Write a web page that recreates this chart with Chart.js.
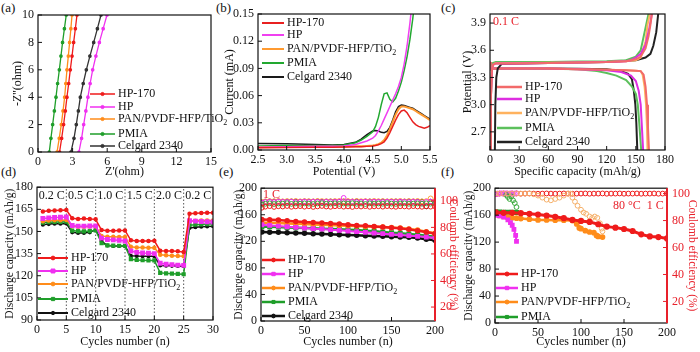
<!DOCTYPE html>
<html>
<head>
<meta charset="utf-8">
<script src="https://cdn.jsdelivr.net/npm/chart.js@4.4.0/dist/chart.umd.min.js"></script>
<style>
body{margin:0;width:700px;height:352px;background:#fff;position:relative;overflow:hidden}
canvas{position:absolute}
.lbl{position:absolute;font:13px "Liberation Serif","DejaVu Serif",serif;color:#111}
</style>
</head>
<body>
<div class="lbl" style="left:1px;top:0">(a)</div>
<div class="lbl" style="left:216px;top:0">(b)</div>
<div class="lbl" style="left:441px;top:0">(c)</div>
<div class="lbl" style="left:1px;top:164px">(d)</div>
<div class="lbl" style="left:219px;top:164px">(e)</div>
<div class="lbl" style="left:441px;top:164px">(f)</div>
<canvas id="ca" width="233" height="180" style="left:0;top:0"></canvas>
<canvas id="cb" width="233" height="180" style="left:220px;top:0"></canvas>
<canvas id="cc" width="245" height="180" style="left:455px;top:0"></canvas>
<canvas id="cd" width="233" height="176" style="left:0;top:176px"></canvas>
<canvas id="ce" width="240" height="176" style="left:230px;top:176px"></canvas>
<canvas id="cf" width="238" height="176" style="left:462px;top:176px"></canvas>
<script>
// ---- names ----
var names = ['HP-170', 'HP', 'PAN/PVDF-HFP/TiO₂', 'PMIA', 'Celgard 2340'];

// ---- (a) Nyquist ----
var aY = [0, 1, 2, 3, 4, 5, 6, 7, 8, 9, 10];
var aHP170 = [1.87, 2.05, 2.22, 2.37, 2.51, 2.66, 2.80, 2.95, 3.09, 3.24, 3.38];
var aHP = [3.55, 3.78, 3.96, 4.15, 4.33, 4.52, 4.74, 5.02, 5.32, 5.65, 5.98];
var aPAN = [1.65, 1.84, 2.02, 2.17, 2.31, 2.41, 2.51, 2.63, 2.74, 2.85, 2.95];
var aPMIA = [0.98, 1.12, 1.27, 1.42, 1.56, 1.70, 1.85, 1.99, 2.13, 2.29, 2.45];
var aCel = [2.86, 3.12, 3.32, 3.50, 3.67, 3.92, 4.19, 4.50, 4.83, 5.15, 5.46];

// ---- (b) LSV ----
var bX = [2.5, 3.0, 3.5, 3.8, 4.0, 4.2, 4.3, 4.4, 4.5, 4.55, 4.6, 4.65, 4.7, 4.75, 4.8, 4.85, 4.9, 4.95, 5.0, 5.05, 5.1, 5.15, 5.2, 5.25, 5.3, 5.35, 5.4, 5.45, 5.5];
var bHP170 = [0.0025, 0.0028, 0.003, 0.003, 0.0032, 0.0035, 0.0037, 0.004, 0.0045, 0.005, 0.0058, 0.007, 0.009, 0.013, 0.019, 0.026, 0.033, 0.039, 0.043, 0.044, 0.041, 0.036, 0.031, 0.028, 0.026, 0.025, 0.024, 0.025, 0.027];
var bHP = [0.003, 0.0035, 0.004, 0.004, 0.0045, 0.006, 0.008, 0.010, 0.013, 0.016, 0.021, 0.027, 0.034, 0.041, 0.048, 0.055, 0.062, 0.070, 0.080, 0.095, 0.115, 0.140, 0.170, 0.210];
var bPAN = [0.003, 0.0033, 0.0035, 0.0035, 0.0037, 0.004, 0.0042, 0.0045, 0.005, 0.0055, 0.0065, 0.008, 0.011, 0.016, 0.023, 0.031, 0.039, 0.045, 0.048, 0.048, 0.047, 0.046, 0.045, 0.043, 0.041, 0.039, 0.037, 0.035, 0.033];
var bPMIA = [0.0045, 0.005, 0.005, 0.005, 0.0055, 0.008, 0.011, 0.015, 0.020, 0.026, 0.036, 0.050, 0.062, 0.063, 0.056, 0.053, 0.057, 0.065, 0.075, 0.088, 0.103, 0.122, 0.145, 0.175];
var bCel = [0.0072, 0.0068, 0.006, 0.0055, 0.006, 0.0085, 0.012, 0.017, 0.021, 0.0215, 0.021, 0.0195, 0.019, 0.0205, 0.025, 0.033, 0.042, 0.048, 0.0495, 0.049, 0.048, 0.047, 0.046, 0.044, 0.042, 0.040, 0.038, 0.036, 0.034];

// ---- (c) charge / discharge at 0.1 C ----
var cChgCap = {
  HP170: [0.5, 1, 2, 3, 6, 30, 60, 90, 120, 140, 150, 155, 160, 163, 165, 166.5],
  HP:    [0.5, 1, 2, 3, 6, 30, 60, 90, 120, 140, 145, 150, 155, 160, 164, 166.5],
  PAN:   [0.5, 1, 2, 3, 6, 30, 60, 90, 120, 140, 150, 155, 160, 162, 164.5],
  PMIA:  [0.5, 1, 2, 3, 6, 30, 60, 90, 120, 140, 150, 155, 159, 163],
  Cel:   [5, 5.5, 6.5, 8, 12, 30, 60, 90, 120, 150, 160, 165, 168, 171, 173]
};
var cChgV = {
  HP170: [2.5, 3.1, 3.38, 3.44, 3.455, 3.455, 3.46, 3.465, 3.47, 3.48, 3.50, 3.53, 3.62, 3.75, 3.88, 4.0],
  HP:    [2.5, 3.1, 3.38, 3.44, 3.455, 3.455, 3.46, 3.465, 3.47, 3.48, 3.49, 3.52, 3.56, 3.66, 3.85, 4.0],
  PAN:   [2.5, 3.1, 3.38, 3.44, 3.46, 3.46, 3.462, 3.465, 3.47, 3.48, 3.49, 3.52, 3.70, 3.88, 4.0],
  PMIA:  [2.5, 3.1, 3.40, 3.46, 3.47, 3.47, 3.47, 3.475, 3.48, 3.49, 3.53, 3.60, 3.80, 4.0],
  Cel:   [2.5, 3.0, 3.3, 3.40, 3.45, 3.455, 3.46, 3.465, 3.47, 3.49, 3.52, 3.56, 3.65, 3.80, 4.0]
};
var cDisCap = {
  HP170: [0, 1, 3, 30, 60, 90, 120, 140, 150, 155, 158, 160, 161.5, 162.5, 163.5],
  HP:    [0, 1, 3, 30, 60, 90, 120, 135, 145, 150, 153, 155, 156, 157.5],
  PAN:   [0, 1, 3, 30, 60, 90, 120, 140, 150, 155, 157, 159, 160.5, 161.5, 162],
  PMIA:  [0, 1, 3, 30, 60, 90, 110, 120, 130, 140, 146, 150, 152, 153.5, 155.5],
  Cel:   [0, 1, 3, 30, 60, 90, 120, 135, 142, 146, 148, 149.5, 150.5, 151.5]
};
var cDisV = {
  HP170: [3.47, 3.42, 3.40, 3.40, 3.40, 3.39, 3.385, 3.38, 3.375, 3.37, 3.33, 3.2, 3.0, 2.75, 2.5],
  HP:    [3.47, 3.42, 3.40, 3.40, 3.40, 3.39, 3.38, 3.36, 3.32, 3.26, 3.15, 3.0, 2.8, 2.5],
  PAN:   [3.47, 3.42, 3.40, 3.40, 3.40, 3.39, 3.385, 3.38, 3.375, 3.37, 3.33, 3.2, 3.0, 2.75, 2.5],
  PMIA:  [3.47, 3.42, 3.40, 3.40, 3.395, 3.39, 3.37, 3.35, 3.32, 3.27, 3.2, 3.12, 3.0, 2.8, 2.5],
  Cel:   [3.47, 3.42, 3.40, 3.40, 3.40, 3.395, 3.39, 3.37, 3.34, 3.28, 3.15, 3.0, 2.8, 2.5]
};
var cYTicks = [2.7, 3.0, 3.3, 3.6, 3.9];

// ---- (d) rate capability ----
var dCycles = [1,2,3,4,5,6,7,8,9,10,11,12,13,14,15,16,17,18,19,20,21,22,23,24,25,26,27,28,29,30];
var dHP170 = [163.5,164,164.2,164.4,164.5, 159,158.5,158.8,158.5,158.2, 151,150.5,150.5,150.6,150.7, 144,143.6,143.5,143.6,143.7, 137,136.8,136.8,136.6,136, 162,162.3,162.5,162.7,162.7];
var dHP = [158.8,159.2,159.5,159.6,159.8, 154,153.6,153.6,153.7,153.8, 145.5,144.6,144.3,144,143.5, 136.8,135.8,135.4,135.2,135, 128.5,127.8,127.5,127.2,127, 157.3,157,156.8,156.6,156.4];
var dPAN = [157,157.5,157.6,157.6,157.7, 153.5,153.2,153.2,153.3,153.4, 147,146.5,146.4,146.3,146.2, 139.6,139.2,139.1,139,139, 134.2,133.8,133.6,133.4,133.2, 157,157.3,157.4,157.5,157.5];
var dPMIA = [156,156.3,156.4,156.5,156.6, 150.6,150.2,150.1,150.2,150.8, 142,140.6,140.4,140.3,140.3, 131.2,130.7,130.5,130.4,130.4, 122,121.6,121.4,121.2,121, 154.2,154.6,154.8,155,155];
var dCel = [154.6,155,155.2,155.3,155.4, 149.4,149,149,149.4,151.2, 143.5,140.5,140.2,140.1,140.1, 133.5,133.3,133.2,133.2,133.2, 127,126.8,126.7,126.6,126.5, 152.4,152.9,153.2,153.4,153.6];
var dSteps = [5, 10, 15, 20, 25];
var dRates = ['0.2 C', '0.5 C', '1.0 C', '1.5 C', '2.0 C', '0.2 C'];
var dRateMid = [2.5, 7.5, 12.5, 17.5, 22.5, 27.5];

// ---- (e) cycling at 1 C ----
var eX = [1,10,20,30,40,50,60,70,80,90,100,110,120,130,140,150,160,170,180,190,200];
var eHP170 = [153,152.5,152,151,150,149,148.5,147.5,147,146,145,144,143.5,142.5,141.5,140.5,139.5,138,136,134,131.5];
var eHP = [145,144,143,142,141,140,139,138.5,137.5,136.5,135.5,134.5,133.5,132.5,131.5,130.5,129.5,128.5,127.5,126.5,125.5];
var ePAN = [148,147.8,147.5,147,146.5,146,145.5,145,144.5,144,143.5,143,142.5,142,141.5,141,140,138.5,137,134.5,132];
var ePMIA = [142,141.8,141.5,141,140.5,140,139.5,139,138.5,138,137.5,137,136,135,134,133,132,131,130,128.5,127];
var eCel = [134,133.8,133.5,133,132.5,132,131.5,131,130.5,130,129.5,129,128.5,128,127.5,127,126.5,126,125,123,121.5];
var ceX = [1,5,10,15,20,25,30,35,40,45,50,55,60,65,70,75,80,85,90,95,100,105,110,115,120,125,130,135,140,145,150,155,160,165,170,175,180,185,190,195,200];
var eCeHP170 = [94.8,95.6,96.0,95.4,95.9,95.7,96.1,95.5,95.8,96.0,95.6,95.9,95.4,95.8,96.1,95.7,95.5,95.9,96.0,95.6,95.8,95.4,95.9,95.7,96.0,95.5,95.8,95.9,95.6,96.0,95.7,95.5,95.9,95.8,95.6,96.0,95.7,95.5,95.9,95.6,95.8];
var eCeHP = [98.6,99.1,99.3,99.0,99.4,99.2,99.1,99.3,99.0,99.2,99.4,99.1,99.3,99.2,99.0,99.3,99.1,99.2,99.4,102.2,99.1,99.3,99.0,99.2,99.4,99.1,99.3,99.2,99.0,99.3,99.2,99.1,99.4,99.2,99.0,99.3,99.1,98.2,99.2,99.3,99.1];
var eCePAN = [99.0,99.6,99.8,99.7,99.9,99.6,99.8,99.7,99.9,99.6,99.8,99.7,99.6,99.9,99.8,99.7,99.6,99.8,99.9,99.7,99.8,99.6,99.9,99.7,99.8,99.6,99.9,99.7,99.8,99.6,99.8,99.7,99.9,99.6,99.8,99.7,99.9,99.6,99.8,101.8,99.7];
var eCePMIA = [97.2,97.8,98.1,97.6,98.0,97.9,98.2,97.7,98.0,97.8,98.1,97.9,97.6,98.0,98.2,97.8,97.9,98.1,97.7,98.0,97.9,98.2,97.8,98.0,97.6,98.1,97.9,98.0,97.8,98.2,97.9,97.7,98.0,98.1,97.8,97.9,98.0,97.8,98.1,97.9,98.0];
var eCeCel = [98.8,99.3,99.5,99.4,99.5,99.3,99.4,99.5,99.4,99.3,99.5,99.4,99.4,99.5,99.3,99.4,99.5,99.4,99.3,99.5,99.4,99.4,99.5,99.3,99.4,99.5,99.4,99.3,99.5,99.4,99.4,99.5,99.3,99.4,99.5,99.4,99.3,99.4,95.8,99.4,99.5];
var ceTicks = [20, 40, 60, 80, 100];

// ---- (f) cycling at 80 °C, 1 C ----
var fX170 = [1,10,20,30,40,50,60,70,80,90,100,110,120,130,140,150,160,170,180,190,200];
var fHP170 = [164,163.5,163.5,163,162,161,159.5,157.5,155.5,153,151.5,150,146.5,143,141.5,139.5,136.5,131.5,128.5,127.5,125.5];
var fXHP = [1,5,10,15,18,20,22,24,25];
var fHP = [160,159,157,153,149,145,139,130,121];
var fXPAN = [1,5,10,15,20,25,30,40,50,60,70,80,90,95,98,100,105,110,115,118,120,125];
var fPAN = [161,159.5,158,157,156,155.5,155,154,153,153,152.5,152.5,152,147,141,140,137,135,134,130,128.5,127.5];
var fXPMIA = [1,5,10,15,20,25];
var fPMIA = [164.5,164.5,164.3,164.3,164.2,164];
var fCeHP170 = [99.6,100,100.1,99.9,100,100.1,99.9,100,100.1,100,99.9,100,100.1,100,99.9,100,100.1,100,99.9,100,100,100.1,99.9,100,100,100.1,99.9,100,100,100.1,99.9,100,100,100.1,99.9,100,100,100.1,99.9,100,100];
var fCeXHP = [1,3,5,7,9,11,13,15,17,19,21,23,25];
var fCeHP = [99.5,100,100,100.2,100,100,100.2,100,100,100.2,100,100,100.2];
var fCeXPAN = [1,5,10,15,20,25,30,35,40,45,50,55,60,65,70,75,80,85,88,90,93,96,100,103,106,110,113,116,119,122,124,125];
var fCePAN = [100,100,100,100,100,100,100,100,100,99.5,98.5,97,95.5,95,96,97,98.5,100,100,97,94,91,88,86,85,83,82,83,82,78,74,72];
var fCeXPMIA = [13,15,17,19,21,23,25];
var fCePMIA = [99,97.5,96,98,95,93,90];

// ---- helpers ----
var SERIF = '"Liberation Serif","DejaVu Serif",serif';
var RED = '#ef1b1b', MAG = '#f030f0', ORA = '#ff8c1a', GRN = '#1f9e2a', BLK = '#111111';
var AXRED = '#e8202a';
Chart.defaults.font.family = SERIF;
Chart.defaults.font.size = 12;
Chart.defaults.color = '#111';
Chart.defaults.animation = false;
Chart.defaults.plugins.legend.display = false;
Chart.defaults.plugins.tooltip.enabled = false;

function pts(xs, ys) {
  var out = [];
  for (var i = 0; i < Math.min(xs.length, ys.length); i++) out.push({x: xs[i], y: ys[i]});
  return out;
}
function line(label, color, data, extra) {
  var d = {label: label, data: data, borderColor: color, backgroundColor: color,
    pointBackgroundColor: color, pointBorderColor: color, borderWidth: 1.5,
    pointRadius: 0, showLine: true, tension: 0};
  for (var k in extra) d[k] = extra[k];
  return d;
}
function ceSet(label, color, data) {
  return {label: label, data: data, showLine: false, pointRadius: 2.4, pointStyle: 'circle',
    borderColor: color, pointBorderColor: color, pointBackgroundColor: 'rgba(255,255,255,0)',
    pointBorderWidth: 1, yAxisID: 'y1'};
}
function axis(o) {
  var horiz = o.pos === 'bottom';
  var ax = {type: 'linear', position: o.pos, min: o.min, max: o.max,
    grid: {display: false, drawTicks: false}, border: {display: false},
    ticks: {stepSize: o.step, autoSkip: false, maxRotation: 0, padding: o.tpad || 3,
      color: o.color || '#111', font: {size: 12},
      callback: o.fmt || function (v) { return v; }},
    title: {display: true, text: o.title, color: o.color || '#111', font: {size: o.tsize || 12},
      padding: horiz ? {top: 0, bottom: o.tp} : {top: o.tp, bottom: 0}},
    afterFit: function (s) { if (horiz) s.height = o.size; else s.width = o.size; }};
  if (o.list) ax.afterBuildTicks = function (s) { s.ticks = o.list.map(function (v) { return {value: v}; }); };
  return ax;
}

// frame with inward ticks
Chart.register({
  id: 'frame',
  afterDraw: function (chart, args, o) {
    var a = chart.chartArea, ctx = chart.ctx;
    ctx.save();
    ctx.lineWidth = 1;
    Object.keys(chart.scales).forEach(function (k) {
      var s = chart.scales[k];
      ctx.strokeStyle = (k === 'y1' && o.right) ? o.right : '#111';
      ctx.beginPath();
      s.ticks.forEach(function (t) {
        var p = s.getPixelForValue(t.value);
        if (s.isHorizontal()) { ctx.moveTo(p, a.bottom); ctx.lineTo(p, a.bottom - 4); }
        else if (k === 'y1') { ctx.moveTo(a.right, p); ctx.lineTo(a.right - 4, p); }
        else { ctx.moveTo(a.left, p); ctx.lineTo(a.left + 4, p); }
      });
      ctx.stroke();
    });
    ctx.strokeStyle = '#111';
    ctx.lineWidth = 1.2;
    ctx.strokeRect(a.left, a.top, a.right - a.left, a.bottom - a.top);
    if (o.right) {
      ctx.strokeStyle = o.right; ctx.lineWidth = 2;
      ctx.beginPath(); ctx.moveTo(a.right, a.top); ctx.lineTo(a.right, a.bottom); ctx.stroke();
    }
    ctx.restore();
  }
});

// in-plot legend
Chart.register({
  id: 'key',
  afterDraw: function (chart, args, o) {
    if (!o.ys) return;
    var ctx = chart.ctx, size = o.size || 12;
    ctx.save();
    ctx.textBaseline = 'middle';
    o.ys.forEach(function (y, i) {
      var ds = chart.data.datasets[o.idx[i]], c = ds.borderColor;
      ctx.strokeStyle = c; ctx.lineWidth = o.lw || 1.5;
      ctx.beginPath(); ctx.moveTo(o.x0, y); ctx.lineTo(o.x1, y); ctx.stroke();
      if (o.marker && ds.pointRadius > 0) {
        ctx.fillStyle = c; ctx.lineWidth = 1;
        Chart.helpers.drawPoint(ctx, {pointStyle: ds.pointStyle || 'circle', radius: ds.pointRadius + 0.4,
          rotation: 0, borderWidth: 1}, (o.x0 + o.x1) / 2, y);
      }
      ctx.fillStyle = '#111';
      ctx.font = size + 'px ' + SERIF;
      var t = ds.label, sub = t.slice(-1) === '₂';
      if (sub) t = t.slice(0, -1);
      ctx.fillText(t, o.x1 + 3, y);
      if (sub) {
        var w = ctx.measureText(t).width;
        ctx.font = Math.round(size * 0.65) + 'px ' + SERIF;
        ctx.fillText('2', o.x1 + 3 + w, y + 4);
      }
    });
    ctx.restore();
  }
});

// free text inside plots
Chart.register({
  id: 'note',
  afterDraw: function (chart, args, o) {
    if (!o.items) return;
    var ctx = chart.ctx, a = chart.chartArea;
    ctx.save();
    ctx.textBaseline = 'middle';
    o.items.forEach(function (n) {
      ctx.font = (n.size || 12) + 'px ' + SERIF;
      ctx.fillStyle = n.color || '#111';
      ctx.textAlign = n.align || 'left';
      var x = n.xv != null ? chart.scales.x.getPixelForValue(n.xv) : a.left + n.dx;
      ctx.fillText(n.text, x, a.top + n.dy);
    });
    ctx.restore();
  }
});

function make(id, datasets, scales, padding, plugins) {
  return new Chart(document.getElementById(id), {
    type: 'scatter',
    data: {datasets: datasets},
    options: {responsive: false, devicePixelRatio: 1, layout: {padding: padding},
      scales: scales, plugins: plugins}
  });
}

// (a)
var aMark = {pointRadius: 1.2, pointStyle: 'circle', borderWidth: 1.3};
make('ca', [
  line(names[0], RED, pts(aHP170, aY), aMark),
  line(names[1], MAG, pts(aHP, aY), aMark),
  line(names[2], ORA, pts(aPAN, aY), aMark),
  line(names[3], GRN, pts(aPMIA, aY), aMark),
  line(names[4], '#333', pts(aCel, aY), aMark)
], {
  x: axis({pos: 'bottom', min: 0, max: 15, step: 3, title: "Z'(ohm)", tp: 1, size: 28}),
  y: axis({pos: 'left', min: 0, max: 10, step: 2, title: "-Z''(ohm)", tp: 11, size: 38, tpad: 4})
}, {top: 15, right: 22, left: 0, bottom: 0}, {
  key: {x0: 90, x1: 115, ys: [94, 107, 119, 134, 146], idx: [0, 1, 2, 3, 4], marker: true, size: 12}
});

// (b)
make('cb', [
  line(names[0], '#e82020', pts(bX, bHP170)),
  line(names[1], '#f040f0', pts(bX, bHP)),
  line(names[2], '#ff9a30', pts(bX, bPAN), {borderWidth: 2}),
  line(names[3], '#22a830', pts(bX, bPMIA)),
  line(names[4], '#1a1a1a', pts(bX, bCel))
], {
  x: axis({pos: 'bottom', min: 2.5, max: 5.5, step: 0.5, title: 'Potential (V)', tp: 1, size: 30,
    fmt: function (v) { return v.toFixed(1); }}),
  y: axis({pos: 'left', min: 0, max: 0.15, step: 0.03, title: 'Current (mA)', tp: 3, size: 38, tpad: 4,
    fmt: function (v) { return v.toFixed(2); }})
}, {top: 14, right: 23, left: 0, bottom: 0}, {
  key: {x0: 42, x1: 64, ys: [23, 35, 49, 63, 77], idx: [0, 1, 2, 3, 4], lw: 2, size: 12}
});

// (c)
var cCols = ['#f26a6a', '#dd2ee0', '#ffb25e', '#5cc05c', '#222222'];
var cKeys = ['HP170', 'HP', 'PAN', 'PMIA', 'Cel'];
var cSets = [];
cKeys.forEach(function (k, i) { cSets.push(line(names[i], cCols[i], pts(cChgCap[k], cChgV[k]), {borderWidth: 2})); });
cKeys.forEach(function (k, i) { cSets.push(line(names[i], cCols[i], pts(cDisCap[k], cDisV[k]), {borderWidth: 2})); });
make('cc', cSets, {
  x: axis({pos: 'bottom', min: 0, max: 180, step: 30, title: 'Specific capacity (mAh/g)', tp: 1, size: 30}),
  y: axis({pos: 'left', min: 2.5, max: 4.0, list: cYTicks, title: 'Potential (V)', tp: 6, size: 35, tpad: 4,
    fmt: function (v) { return v.toFixed(1); }})
}, {top: 14, right: 35, left: 0, bottom: 0}, {
  key: {x0: 42, x1: 67, ys: [87, 99, 113, 128, 142], idx: [0, 1, 2, 3, 4], lw: 2.5, size: 12},
  note: {items: [{text: '0.1 C', dx: 3, dy: 8, color: AXRED}]}
});

// (d)
var dSets = [
  line(names[0], RED, pts(dCycles, dHP170), {pointRadius: 1.5, borderWidth: 1.5}),
  line(names[1], MAG, pts(dCycles, dHP), {pointRadius: 2.4, pointStyle: 'rect', borderWidth: 1.5}),
  line(names[2], ORA, pts(dCycles, dPAN), {pointRadius: 1.5, borderWidth: 1.5}),
  line(names[3], GRN, pts(dCycles, dPMIA), {pointRadius: 1.9, pointStyle: 'rect', borderWidth: 1.5}),
  line(names[4], BLK, pts(dCycles, dCel), {pointRadius: 1.3, borderWidth: 1.5})
];
dSteps.forEach(function (s) {
  dSets.push(line('', '#555', [{x: s, y: 90}, {x: s, y: 180}], {borderWidth: 1, borderDash: [1.5, 2]}));
});
make('cd', dSets, {
  x: axis({pos: 'bottom', min: 0, max: 30, step: 5, title: 'Cycles number (n)', tp: 3, size: 32}),
  y: axis({pos: 'left', min: 90, max: 180, step: 15, title: 'Discharge capacity (mAh/g)', tp: 3, size: 37, tpad: 4, tsize: 11.5})
}, {top: 6, right: 20, left: 0, bottom: 0}, {
  key: {x0: 38, x1: 68, ys: [82, 95, 108, 123, 137], idx: [0, 1, 2, 3, 4], marker: true, lw: 2, size: 12},
  note: {items: dRates.map(function (r, i) { return {text: r, xv: dRateMid[i], dy: 9, align: 'center'}; })}
});

// (e)
var capMark = {pointRadius: 1.5, borderWidth: 2.5};
make('ce', [
  line(names[0], RED, pts(eX, eHP170), capMark),
  line(names[1], MAG, pts(eX, eHP), {pointRadius: 2, pointStyle: 'rect', borderWidth: 2}),
  line(names[2], ORA, pts(eX, ePAN), capMark),
  line(names[3], GRN, pts(eX, ePMIA), {pointRadius: 1.8, pointStyle: 'rect', borderWidth: 2.5}),
  line(names[4], BLK, pts(eX, eCel), capMark),
  ceSet(names[0], RED, pts(ceX, eCeHP170)),
  ceSet(names[3], '#3aa83a', pts(ceX, eCePMIA)),
  ceSet(names[1], MAG, pts(ceX, eCeHP)),
  ceSet(names[2], '#ffa040', pts(ceX, eCePAN)),
  ceSet(names[4], '#222', pts(ceX, eCeCel))
], {
  x: axis({pos: 'bottom', min: 0, max: 200, step: 50, title: 'Cycles number (n)', tp: 3, size: 31}),
  y: axis({pos: 'left', min: 0, max: 200, step: 40, title: 'Discharge capacity (mAh/g)', tp: 2, size: 31, tpad: 4, tsize: 11.5}),
  y1: axis({pos: 'right', min: 9.5, max: 109.5, list: ceTicks, title: 'Coulomb efficiency (%)', tp: 10, size: 35, tpad: 5, color: AXRED, tsize: 11.5})
}, {top: 7, right: 0, left: 0, bottom: 0}, {
  frame: {right: AXRED},
  key: {x0: 32, x1: 55, ys: [84, 98, 112, 126, 140], idx: [0, 1, 2, 3, 4], marker: true, lw: 2.5, size: 12},
  note: {items: [{text: '1 C', dx: 2, dy: 7, color: AXRED}]}
});

// (f)
make('cf', [
  line(names[0], RED, pts(fX170, fHP170), {pointRadius: 1.6, borderWidth: 3}),
  line(names[1], MAG, pts(fXHP, fHP), {pointRadius: 2, pointStyle: 'rect', borderWidth: 2}),
  line(names[2], ORA, pts(fXPAN, fPAN), {pointRadius: 1.6, borderWidth: 2.5}),
  line(names[3], GRN, pts(fXPMIA, fPMIA), {pointRadius: 1.8, pointStyle: 'rect', borderWidth: 2.5}),
  ceSet(names[2], '#f5b06a', pts(fCeXPAN, fCePAN)),
  ceSet(names[3], '#3aa83a', pts(fCeXPMIA, fCePMIA)),
  ceSet(names[1], MAG, pts(fCeXHP, fCeHP)),
  ceSet(names[0], RED, pts(ceX, fCeHP170))
], {
  x: axis({pos: 'bottom', min: 0, max: 200, step: 50, title: 'Cycles number (n)', tp: 3, size: 29}),
  y: axis({pos: 'left', min: 0, max: 200, step: 40, title: 'Discharge capacity (mAh/g)', tp: 0, size: 33, tpad: 4, tsize: 11.5}),
  y1: axis({pos: 'right', min: 4, max: 104, list: ceTicks, title: 'Coulomb efficiency (%)', tp: 1, size: 33, tpad: 5, color: AXRED, tsize: 11.5})
}, {top: 9, right: 0, left: 0, bottom: 0}, {
  frame: {right: AXRED},
  key: {x0: 34, x1: 56, ys: [98, 112, 126, 141], idx: [0, 1, 2, 3], marker: true, lw: 2.5, size: 12},
  note: {items: [{text: '80 °C  1 C', dx: 118, dy: 18, color: AXRED}]}
});
</script>
</body>
</html>
